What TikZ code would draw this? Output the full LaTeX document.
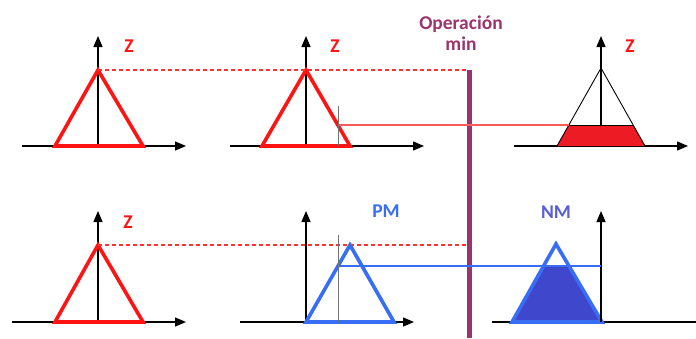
\documentclass[tikz,border=0pt]{standalone}
\usepackage{fontspec}
\setmainfont{Carlito}
\usetikzlibrary{arrows.meta}

\definecolor{zred}{RGB}{255,20,20}
\definecolor{dashred}{RGB}{255,50,50}
\definecolor{cutred}{RGB}{255,90,90}
\definecolor{clipred}{RGB}{237,28,36}
\definecolor{pmblue}{RGB}{55,110,245}
\definecolor{nmfill}{RGB}{63,72,204}
\definecolor{nmtext}{RGB}{85,95,215}
\definecolor{minbar}{RGB}{155,52,110}

\begin{document}
\begin{tikzpicture}[x=1pt, y=-1pt,
    axis/.style={line width=1.4pt, -{Triangle[length=11pt, width=9pt]}},
    mfred/.style={draw=zred, line width=3.6pt, line join=miter},
    mfblue/.style={draw=pmblue, line width=3.6pt, line join=miter},
    cutline/.style={draw=black!55, line width=1pt},
    level/.style={draw=dashred, line width=1.4pt, dash pattern=on 4pt off 3pt},
    lbl/.style={font=\fontsize{19.5}{21}\selectfont\bfseries}]
    \useasboundingbox (0,0) rectangle (696,338);

    % Top left: Z
    \draw[axis] (22,146) -- (186,146);
    \draw[axis] (98,146) -- (98,36);
    \coordinate (a1) at (98,70);
    \draw[mfred] (55,146) -- (a1) -- (143,146) -- cycle;
    \node[lbl, zred] (z1) at (129,46) {Z};

    % Top middle: Z with input cut
    \draw[axis] (230,146) -- (424,146);
    \draw[axis] (306,146) -- (306,36);
    \coordinate (a2) at (306,70);
    \draw[mfred] (262,146) -- (a2) -- (350,146) -- cycle;
    \node[lbl, zred] (z2) at (335,46) {Z};
    \coordinate (in2) at (338,106);
    \coordinate (in2b) at (338,146);
    \draw[cutline] (in2b) -- (in2);
    \coordinate (c2) at (339,125);

    % min operator
    \coordinate (bartop) at (469,70);
    \coordinate (barmid) at (469,245);
    \coordinate (barbot) at (469,338);
    \draw[minbar, line width=5pt] (bartop) -- (barbot);
    \node[lbl, minbar, align=center, inner sep=0pt] (op) at (461,33)
        {Operación\\min};

    % levels
    \draw[level] (a1) -- (bartop);

    % Top right: clipped Z
    \draw[axis] (514,146) -- (688,146);
    \draw[axis] (601,146) -- (601,36);
    \coordinate (a3) at (601,68);
    \coordinate (t3l) at (568.8,125);
    \coordinate (t3r) at (633.2,125);
    \fill[clipred] (557,146) -- (t3l) -- (t3r) -- (645,146) -- cycle;
    \draw[black, line width=0.9pt] (557,146) -- (a3) -- (645,146);
    \draw[black, line width=1pt] (t3l) -- (t3r);
    \node[lbl, zred] (z3) at (630,46) {Z};
    \draw[cutred, line width=1.2pt] (c2) -- (t3l);

    % Bottom left: Z
    \draw[axis] (12,322) -- (186,322);
    \draw[axis] (98,322) -- (98,211);
    \coordinate (a4) at (98,245);
    \draw[mfred] (55,322) -- (a4) -- (143,322) -- cycle;
    \node[lbl, zred] (z4) at (128,222) {Z};
    \draw[level] (a4) -- (barmid);

    % Bottom middle: PM with input cut
    \draw[axis] (240,322) -- (414,322);
    \draw[axis] (306,322) -- (306,211);
    \coordinate (a5) at (350,245);
    \draw[mfblue] (306,322) -- (a5) -- (394,322) -- cycle;
    \node[lbl, pmblue] (pm) at (386,211) {PM};
    \coordinate (in5) at (338,235);
    \coordinate (in5b) at (338,322);
    \draw[cutline] (in5b) -- (in5);
    \coordinate (c5) at (339,266);

    % Bottom right: clipped NM
    \draw[black, line width=1.4pt] (492,322) -- (696,322);
    \coordinate (a6) at (556,244);
    \coordinate (t6l) at (543.6,266);
    \coordinate (t6r) at (568.4,266);
    \fill[nmfill] (512,322) -- (t6l) -- (t6r) -- (602,322) -- cycle;
    \draw[mfblue] (512,322) -- (a6) -- (602,322) -- cycle;
    \draw[axis] (601,322) -- (601,211);
    \coordinate (ax6) at (601,266);
    \draw[pmblue, line width=1.2pt] (c5) -- (ax6);
    \node[lbl, nmtext] (nm) at (556,212) {NM};
\end{tikzpicture}
\end{document}
